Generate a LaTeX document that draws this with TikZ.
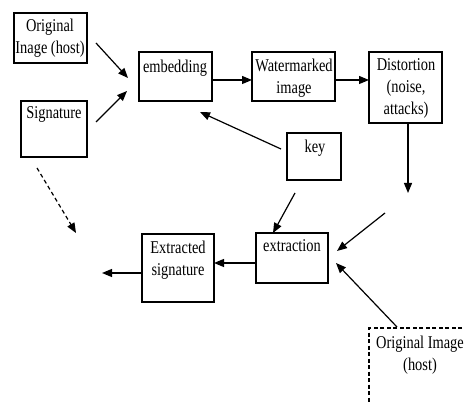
\documentclass[tikz,border=0pt]{standalone}
\usepackage{fontspec}
\setmainfont{Liberation Serif}[FakeStretch=0.8]
\usetikzlibrary{arrows.meta}
\begin{document}
\begin{tikzpicture}[x=1pt,y=-1pt,
  box/.style={draw, line width=1.6pt, inner sep=0pt, minimum width=#1},
  txt/.style={font=\fontsize{18}{22}\selectfont, align=center, inner sep=0pt, anchor=north},
  arr/.style={line width=1.2pt, -{Triangle[length=10pt,width=8pt]}},
  dashbox/.style={draw, line width=1.4pt, dash pattern=on 4pt off 2.5pt, inner sep=0pt}]
\useasboundingbox (0,0) rectangle (465,403);
\clip (0,0) rectangle (465,403);
% boxes
\node[box=73pt, minimum height=50pt] (orig) at (50.5,38) {};
\node[box=66pt, minimum height=56pt] (sig) at (54,129) {};
\node[box=73pt, minimum height=49pt] (emb) at (175.5,76.5) {};
\node[box=83pt, minimum height=49pt] (wm) at (293.5,76.5) {};
\node[box=73pt, minimum height=71pt] (dist) at (405.5,87.5) {};
\node[box=54pt, minimum height=47pt] (key) at (314,156.5) {};
\node[box=72pt, minimum height=50pt] (extr) at (292,258) {};
\node[box=72pt, minimum height=68pt] (xsig) at (178,268) {};
\node[dashbox, minimum width=111pt, minimum height=92pt] (orig2) at (424.5,374) {};
% texts
\node[txt] (origT) at (50,18.7) {Original\\Inage (host)};
\node[txt] (sigT) at (54,106.7) {Signature};
\node[txt] (embT) at (175,59.7) {embedding};
\node[txt] (wmT) at (294,58.7) {Watermarked\\image};
\node[txt] (distT) at (406,58.7) {Distortion\\(noise,\\attacks)};
\node[txt] (keyT) at (315,139.7) {key};
\node[txt] (extrT) at (292,239.7) {extraction};
\node[txt] (xsigT) at (178,240.7) {Extracted\\signature};
\node[txt] (orig2T) at (420,335.7) {Original Image\\(host)};
% free ends and attachment points
\coordinate (a1s) at (96,43);  \coordinate (a1e) at (128,78);
\coordinate (a2s) at (96,122); \coordinate (a2e) at (127,91);
\coordinate (ew) at (212,80);  \coordinate (ww) at (252,80);
\coordinate (we) at (335,80);  \coordinate (dw) at (369,80);
\coordinate (dsb) at (408,123); \coordinate (ds) at (408,193);
\coordinate (ks) at (281,149); \coordinate (ke) at (200,112);
\coordinate (c4s) at (385,213); \coordinate (c4e) at (337,251);
\coordinate (k2s) at (295,193); \coordinate (k2e) at (273,233);
\coordinate (o2s) at (397,327); \coordinate (o2e) at (336,263);
\coordinate (xw) at (256,263); \coordinate (se) at (214,263);
\coordinate (sw) at (142,273); \coordinate (xe) at (102,273);
\coordinate (dss) at (37,168); \coordinate (dse) at (76,233);
% connectors
\draw[arr] (a1s) -- (a1e);
\draw[arr] (a2s) -- (a2e);
\draw[arr] (ew) -- (ww);
\draw[arr] (we) -- (dw);
\draw[arr] (dsb) -- (ds);
\draw[arr] (ks) -- (ke);
\draw[arr] (c4s) -- (c4e);
\draw[arr] (k2s) -- (k2e);
\draw[arr] (o2s) -- (o2e);
\draw[arr] (xw) -- (se);
\draw[arr] (sw) -- (xe);
\draw[arr, dash pattern=on 4pt off 3pt] (dss) -- (dse);
\end{tikzpicture}
\end{document}
